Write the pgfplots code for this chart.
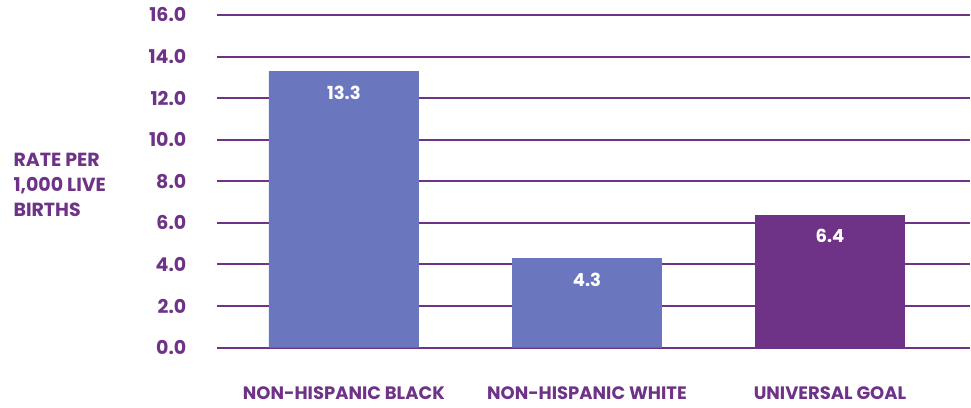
\documentclass[border=0pt]{standalone}
\usepackage{fontspec}
\setmainfont{Poppins}
\usepackage{pgfplots}
\pgfplotsset{compat=1.18}
\definecolor{barblue}{HTML}{6A77BF}
\definecolor{goalpurple}{HTML}{6E3387}
\begin{document}
\begin{tikzpicture}
\begin{axis}[
    scale only axis,
    clip=false,
    width=754pt, height=333pt,
    ybar, bar width=150pt,
    xmin=-0.523, xmax=2.576,
    ymin=0, ymax=16,
    ytick={0,2,...,16},
    xtick={0,1,2},
    xticklabels={NON-HISPANIC BLACK,NON-HISPANIC WHITE,UNIVERSAL GOAL},
    axis line style={draw=none},
    major tick length=0pt,
    ymajorgrids,
    grid style={goalpurple, line width=2pt},
    /pgf/number format/.cd, fixed, fixed zerofill, precision=1, assume math mode=true,
    /pgfplots/.cd,
    ticklabel style={font=\fontsize{18}{20}\selectfont\bfseries, text=goalpurple},
    yticklabel style={font=\fontsize{19}{20}\selectfont\bfseries, anchor=east, xshift=-27pt},
    xticklabel style={anchor=north, yshift=-36pt},
    nodes near coords,
    nodes near coords style={font=\fontsize{18}{20}\selectfont\bfseries, text=white, anchor=north, yshift=-11pt,
        /pgf/number format/.cd, fixed, fixed zerofill, precision=1, assume math mode=true},
]
\addplot[fill=barblue, draw=none, bar shift=0pt] coordinates {(0,13.3) (1,4.3)};
\addplot[fill=goalpurple, draw=none, bar shift=0pt] coordinates {(2,6.4)};
\node[anchor=west, align=left, font=\fontsize{19}{25}\selectfont\bfseries, text=goalpurple]
    at ([xshift=-207pt]axis description cs:0,0.49) {RATE PER\\1,000 LIVE\\BIRTHS};
\path (axis description cs:0,0) ++(-217pt,-60pt);
\path (axis description cs:0,1) ++(0,15pt);
\end{axis}
\end{tikzpicture}
\end{document}
